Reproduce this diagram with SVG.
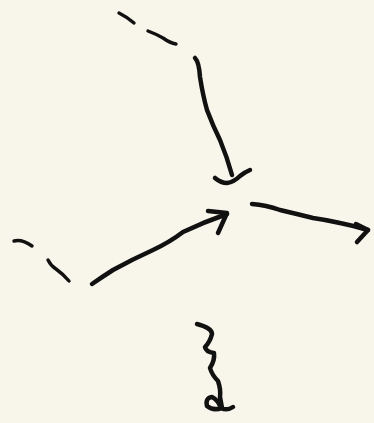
<svg xmlns="http://www.w3.org/2000/svg" width="374" height="423" viewBox="0 0 374 423">
<style>
.s{fill:none;stroke:#111;stroke-linecap:round;stroke-linejoin:round}
.a{stroke-width:4.5}
.d{stroke-width:3.4}
</style>
<rect width="374" height="423" fill="#f8f6ea"/>
<g id="connectors">
<g id="c1">
<path class="s d" d="M119,13 Q127,17 134,23"/>
<path class="s d" d="M148,31 Q156,34 163,38 Q170,43 176,44"/>
<path class="s a" d="M195,58 Q199,62 200,77 Q203,96 207,110 Q213,126 220,140 Q227,157 232,175"/>
<path class="s a" d="M215,178 Q221,183 227,183 Q234,182 240,176 Q245,172 250,170"/>
</g>
<g id="c2">
<path class="s d" d="M14,241 Q22,239 32,246"/>
<path class="s d" d="M48,260 Q51,266 56,269 Q63,274 69,281"/>
<path class="s a" d="M92,284 Q102,277 113,270 Q133,259 153,250 Q170,242 183,232 Q204,222 227,214"/>
<path class="s a" d="M208,211 L227,213 L218,233"/>
</g>
<g id="c3">
<path class="s a" d="M252,204 Q266,205 280,210 Q297,214 313,218 Q327,220 340,223 Q355,226 368,230"/>
<path class="s a" d="M356,224 L368,230 L357,242"/>
</g>
<g id="c4">
<path class="s a" d="M197,324 Q212,328 212,334 Q210,342 205,347 Q206,352 214,353 Q215,360 210,368 Q212,375 218,381 Q221,390 220,397 L222,408 Q213,411 207,406 Q205,398 212,397 Q218,400 221,408 Q227,411 233,407"/>
</g>
</g>
</svg>
